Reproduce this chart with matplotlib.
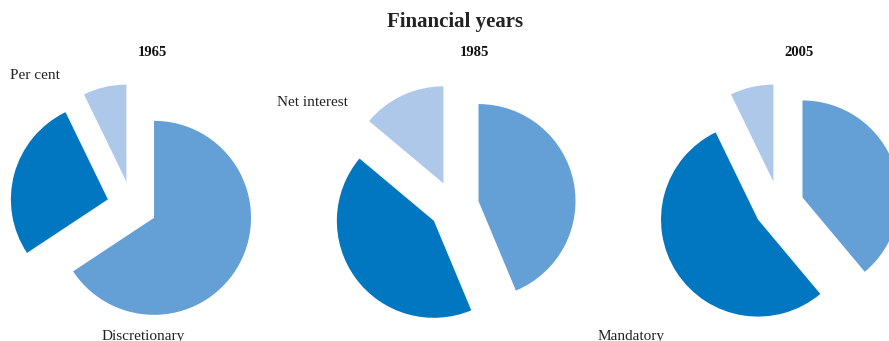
import matplotlib
matplotlib.use("Agg")
import matplotlib.pyplot as plt

# Shares of federal outlays (per cent)
categories = ["Discretionary", "Mandatory", "Net interest"]
years = ["1965", "1985", "2005"]
discretionary = [65.7, 43.7, 38.9]
mandatory = [27.1, 42.4, 53.9]
net_interest = [7.2, 13.9, 7.2]

colors = ["#64a0d6", "#0077c0", "#aec8ea"]

plt.rcParams["font.family"] = ["Liberation Serif", "DejaVu Serif"]

W, H = 889, 341
fig = plt.figure(figsize=(W / 100, H / 100), dpi=100)
ax = fig.add_axes([0, 0, 1, 1])
ax.set_xlim(0, W)
ax.set_ylim(H, 0)
ax.set_aspect("equal")
ax.axis("off")

centers_x = [132, 454, 779]
center_y = 206
radius = 97
gap = 25

for i, year in enumerate(years):
    vals = [discretionary[i], mandatory[i], net_interest[i]]
    # y axis is inverted, so counter-clockwise in data becomes clockwise on screen
    ax.pie(vals, colors=colors, startangle=-90, counterclock=True,
           center=(centers_x[i], center_y), radius=radius,
           explode=[gap] * 3, wedgeprops=dict(linewidth=0),
           frame=True)
    ax.text(centers_x[i] + 20, 56, year, ha="center", va="baseline",
            fontsize=10.5, fontweight="bold", color="#111111")

ax.set_xlim(0, W)
ax.set_ylim(H, 0)
ax.axis("off")

ax.text(455, 27, "Financial years", ha="center", va="baseline",
        fontsize=15, fontweight="bold", color="#222222")
ax.text(10, 79, "Per cent", ha="left", va="baseline", fontsize=11, color="#222222")
ax.text(277, 106, "Net interest", ha="left", va="baseline", fontsize=11, color="#222222")
ax.text(102, 340, "Discretionary", ha="left", va="baseline", fontsize=11, color="#222222")
ax.text(598, 340, "Mandatory", ha="left", va="baseline", fontsize=11, color="#222222")

fig.savefig("out.png", dpi=100)
